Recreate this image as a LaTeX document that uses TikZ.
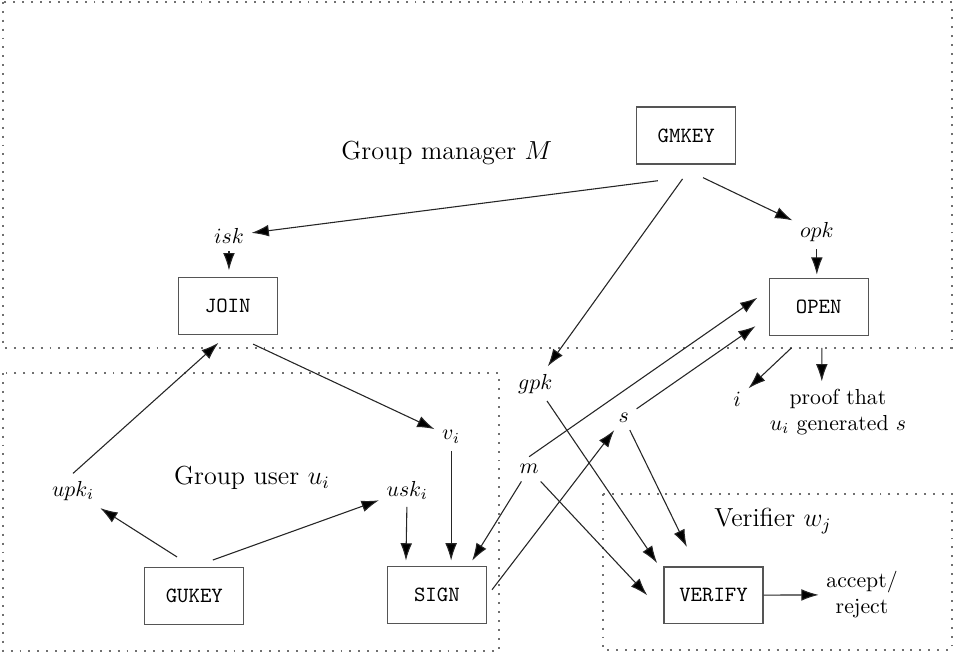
\documentclass[tikz,border=0pt]{standalone}
\usepackage{tikz}
\usetikzlibrary{arrows.meta}
\definecolor{BoxGray}{HTML}{555555}
\definecolor{FlowGray}{HTML}{262626}
\definecolor{DotGray}{HTML}{707070}

\begin{document}
\begin{tikzpicture}[
  procbox/.style={draw=BoxGray, line width=0.6pt, minimum width=1.6cm,
    minimum height=0.92cm, font=\ttfamily},
  flow/.style={-{Latex[length=8pt,width=5.4pt,fill=black]}, color=FlowGray, line width=0.5pt},
  zone/.style={DotGray, line width=0.9pt, dash pattern=on 0.9pt off 3.2pt},
  zonelabel/.style={font=\large}]
  \useasboundingbox (0,0) rectangle (15.4,-10.585);

  \draw[zone] (0.05,-0.03) rectangle (15.38,-5.62);
  \draw[zone] (0.05,-6.03) rectangle (8.06,-10.52);
  \draw[zone] (9.74,-7.98) rectangle (15.38,-10.50);

  \node[zonelabel] (mgrlabel) at (7.22,-2.47) {Group manager $M$};
  \node[zonelabel] (userlabel) at (4.07,-7.72) {Group user $u_i$};
  \node[zonelabel] (verlabel) at (12.49,-8.42) {Verifier $w_j$};

  \node[procbox] (gmkey) at (11.09,-2.19) {GMKEY};
  \node[procbox] (join) at (3.68,-4.94) {JOIN};
  \node[procbox] (open) at (13.23,-4.96) {OPEN};
  \node[procbox] (gukey) at (3.14,-9.63) {GUKEY};
  \node[procbox] (sign) at (7.06,-9.61) {SIGN};
  \node[procbox] (verify) at (11.53,-9.62) {VERIFY};

  \node (isk) at (3.70,-3.81) {$isk$};
  \node (opk) at (13.20,-3.75) {$opk$};
  \node (gpk) at (8.65,-6.20) {$gpk$};
  \node (idx) at (11.91,-6.45) {$i$};
  \node[align=center] (proof) at (13.54,-6.66) {proof that\\$u_i$ generated $s$};
  \node (sig) at (10.08,-6.75) {$s$};
  \node (msg) at (8.55,-7.58) {$m$};
  \node[align=center] (accept) at (13.93,-9.61) {accept/\\reject};
  \node (vi) at (7.29,-7.06) {$v_i$};
  \node (uski) at (6.58,-7.92) {$usk_i$};
  \node (upki) at (1.18,-7.93) {$upk_i$};

  \draw[flow] ([shift={(-0.46,-0.26)}]gmkey.south) -- (isk);
  \draw[flow] ([shift={(-0.06,-0.23)}]gmkey.south) -- (gpk);
  \draw[flow] ([shift={(0.27,-0.21)}]gmkey.south) -- (opk);
  \draw[flow] (isk) -- ([shift={(0.02,0.10)}]join.north);
  \draw[flow] (opk) -- ([shift={(-0.03,0.05)}]open.north);
  \draw[flow] ([shift={(-0.44,-0.19)}]open.south) -- (idx);
  \draw[flow] ([shift={(0.05,-0.19)}]open.south) -- ([xshift=-0.26cm]proof.north);
  \draw[flow] (msg.north) -- ([shift={(-0.18,0.15)}]open.west);
  \draw[flow] (sig) -- ([shift={(-0.21,-0.31)}]open.west);
  \draw[flow] (msg) -- ([shift={(0.57,0.08)}]sign.north);
  \draw[flow] ([shift={(0.08,0.08)}]sign.east) -- (sig);
  \draw[flow] (gpk) -- ([shift={(-0.10,0.05)}]verify.north west);
  \draw[flow] (msg) -- ([xshift=-0.26cm]verify.west);
  \draw[flow] (sig) -- ([shift={(-0.43,0.31)}]verify.north);
  \draw[flow] (verify) -- (accept);
  \draw[flow] (upki.north) -- ([shift={(-0.15,-0.13)}]join.south);
  \draw[flow] ([shift={(0.41,-0.15)}]join.south) -- (vi);
  \draw[flow] (vi) -- ([shift={(0.23,0.08)}]sign.north);
  \draw[flow] (uski) -- ([shift={(-0.50,0.08)}]sign.north);
  \draw[flow] ([shift={(-0.28,0.16)}]gukey.north) -- (upki);
  \draw[flow] ([shift={(0.30,0.11)}]gukey.north) -- (uski);
\end{tikzpicture}
\end{document}
